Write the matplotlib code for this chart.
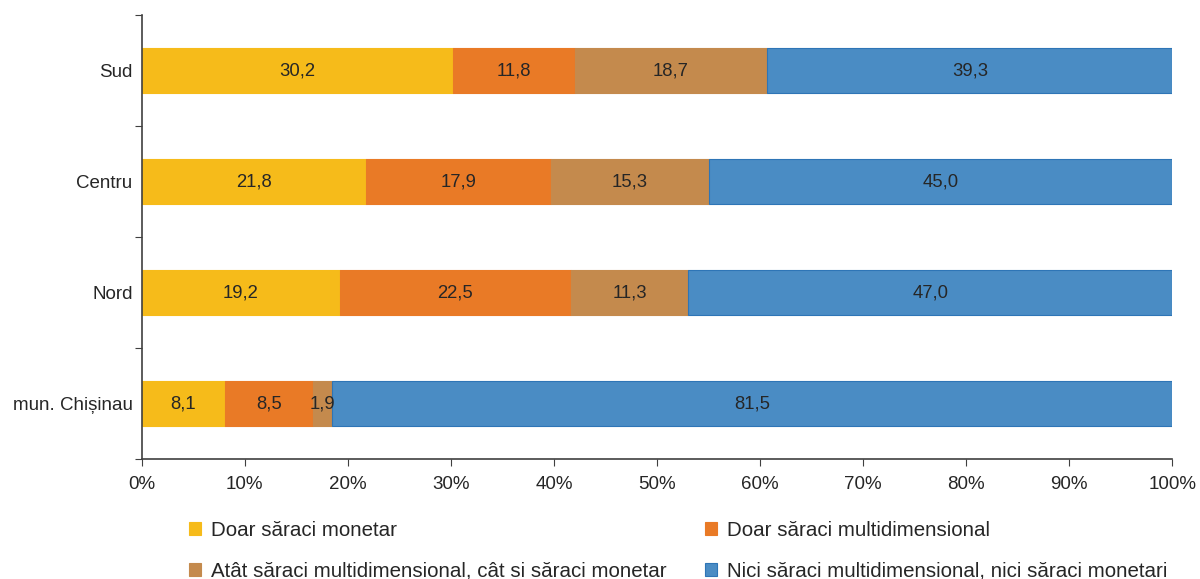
import matplotlib
matplotlib.use("Agg")
import matplotlib.pyplot as plt
from matplotlib.patches import Patch

plt.rcParams['font.family'] = ['Liberation Sans', 'DejaVu Sans']

# regions, bottom to top
regions = ["mun. Chișinau", "Nord", "Centru", "Sud"]

doar_monetar = [8.1, 19.2, 21.8, 30.2]
doar_multidim = [8.5, 22.5, 17.9, 11.8]
atat_ambele = [1.9, 11.3, 15.3, 18.7]
nici_una = [81.5, 47.0, 45.0, 39.3]

series_names = [
    "Doar săraci monetar",
    "Doar săraci multidimensional",
    "Atât săraci multidimensional, cât si săraci monetar",
    "Nici săraci multidimensional, nici săraci monetari",
]
colors = ["#F6BB1A", "#E97A26", "#C48A4D", "#4A8CC4"]
edges = ["#F6BB1A", "#E97A26", "#C48A4D", "#2E75B6"]

fig = plt.figure(figsize=(12, 5.79), dpi=100)
ax = fig.add_axes([0.118, 0.207, 0.859, 0.767])

y = list(range(len(regions)))
left = [0.0] * len(regions)
for vals, col, ec in zip([doar_monetar, doar_multidim, atat_ambele, nici_una], colors, edges):
    bars = ax.barh(y, vals, left=left, height=0.41, color=col, edgecolor=ec, linewidth=0.8)
    for b, v in zip(bars, vals):
        ax.text(b.get_x() + b.get_width() / 2, b.get_y() + b.get_height() / 2,
                f"{v:.1f}".replace(".", ","), ha="center", va="center",
                fontsize=13.3, color="#262626")
    left = [l + v for l, v in zip(left, vals)]

ax.set_xlim(0, 100)
ax.set_ylim(-0.5, 3.5)
ax.set_xticks(range(0, 101, 10))
ax.set_xticklabels([f"{t}%" for t in range(0, 101, 10)])
ax.set_yticks([i - 0.5 for i in range(len(regions) + 1)])
ax.set_yticklabels([])
ax.set_yticks(y, minor=True)
ax.set_yticklabels(regions, minor=True)
ax.tick_params(axis="y", which="minor", length=0, pad=6.5, labelsize=13.5, labelcolor="#262626")
ax.tick_params(axis="y", which="major", length=5, color="#404040")
ax.tick_params(axis="x", length=5, color="#404040", labelsize=13.5, labelcolor="#262626", pad=7)

for s in ["top", "right"]:
    ax.spines[s].set_visible(False)
for s in ["left", "bottom"]:
    ax.spines[s].set_color("#404040")
    ax.spines[s].set_linewidth(1.2)

handles = [Patch(facecolor=c, edgecolor=e, linewidth=0.8) for c, e in zip(colors, edges)]
order = [0, 2, 1, 3]
fig.legend([handles[i] for i in order], [series_names[i] for i in order],
           loc="upper left", bbox_to_anchor=(189 / 1200, 1 - 521 / 579), ncol=2,
           frameon=False, fontsize=14.8, handlelength=0.57, handleheight=0.57,
           handletextpad=0.48, labelspacing=1.05, columnspacing=1.9,
           borderpad=0, borderaxespad=0, labelcolor="#262626")

fig.savefig("out.png", dpi=100)
